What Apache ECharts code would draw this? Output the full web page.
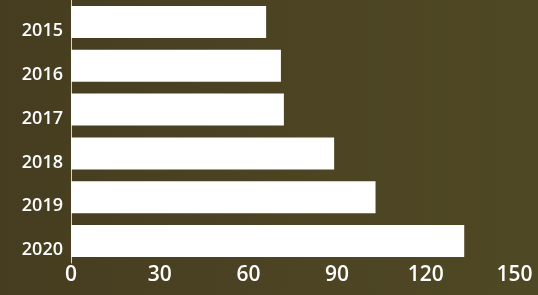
<!DOCTYPE html>
<html>
<head>
<meta charset="utf-8">
<script src="https://cdn.jsdelivr.net/npm/echarts@6/dist/echarts.min.js"></script>
<style>
  html, body { margin: 0; padding: 0; }
  #chart { width: 538px; height: 295px; }
</style>
</head>
<body>
<div id="chart"></div>
<script>
// 数据
const years = ['2015', '2016', '2017', '2018', '2019', '2020'];
const values = [66, 71, 72, 89, 103, 133];
const xTicks = [0, 30, 60, 90, 120, 150];

const chart = echarts.init(document.getElementById('chart'));
chart.setOption({
  backgroundColor: {
    type: 'linear', x: 0, y: 0, x2: 1, y2: 0,
    colorStops: [
      { offset: 0, color: '#463d20' },
      { offset: 0.6, color: '#4c4423' },
      { offset: 1, color: '#4f4824' }
    ]
  },
  animation: false,
  grid: { left: 71, right: 23.5, top: -1, height: 264 },
  xAxis: {
    type: 'value',
    min: xTicks[0],
    max: xTicks[xTicks.length - 1],
    interval: 30,
    axisLine: { show: false },
    axisTick: { show: false },
    splitLine: { show: false },
    axisLabel: {
      color: '#ffffff',
      fontFamily: 'Open Sans',
      fontWeight: 600,
      fontSize: 21,
      margin: 2
    }
  },
  yAxis: {
    type: 'category',
    data: years,
    inverse: true,
    axisLine: { show: true, lineStyle: { color: '#d8d4c8', width: 1 } },
    axisTick: { show: false },
    axisLabel: {
      color: '#ffffff',
      fontFamily: 'Open Sans',
      fontWeight: 600,
      fontSize: 18,
      margin: 8,
      verticalAlign: 'top',
      lineHeight: 18
    }
  },
  series: [{
    type: 'bar',
    data: values,
    barWidth: 32,
    itemStyle: { color: '#ffffff' }
  }]
});
</script>
</body>
</html>
